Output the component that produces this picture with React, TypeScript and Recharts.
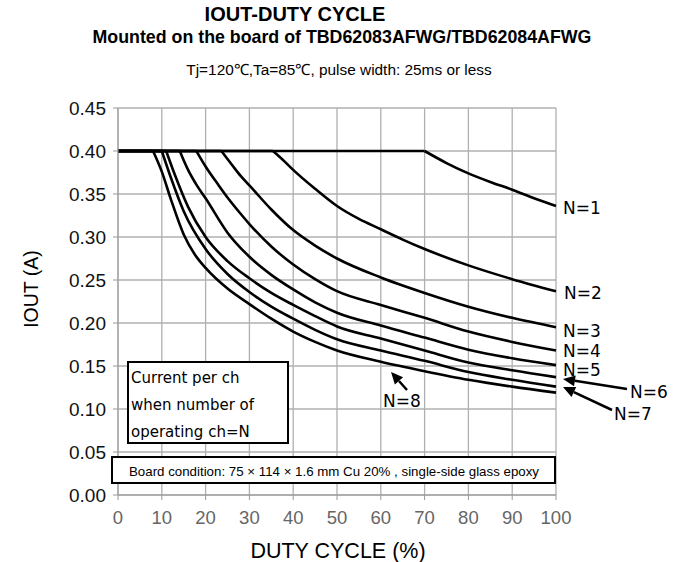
import React from 'react';
import { LineChart, Line, XAxis, YAxis, CartesianGrid } from 'recharts';

const xTicks = [0, 10, 20, 30, 40, 50, 60, 70, 80, 90, 100];
const yTicks = [0, 0.05, 0.1, 0.15, 0.2, 0.25, 0.3, 0.35, 0.4, 0.45];

const dutyN1 = [0, 70, 75, 80, 85, 90, 95, 100];
const ioutN1 = [0.4, 0.4, 0.386, 0.374, 0.364, 0.355, 0.345, 0.336];

const dutyN2 = [0, 35.4, 38, 40, 45, 50, 55, 60, 65, 70, 80, 90, 100];
const ioutN2 = [0.4, 0.4, 0.388, 0.378, 0.356, 0.336, 0.321, 0.309, 0.297, 0.286, 0.267, 0.251, 0.237];

const dutyN3 = [0, 23.6, 26, 28, 30, 35, 40, 45, 50, 60, 70, 80, 90, 100];
const ioutN3 = [0.4, 0.4, 0.384, 0.371, 0.36, 0.332, 0.308, 0.29, 0.275, 0.253, 0.235, 0.219, 0.206, 0.195];

const dutyN4 = [0, 17.9, 20, 23, 25, 28, 30, 35, 40, 45, 50, 60, 70, 80, 90, 100];
const ioutN4 = [0.4, 0.4, 0.382, 0.36, 0.346, 0.327, 0.315, 0.289, 0.268, 0.251, 0.237, 0.221, 0.206, 0.19, 0.178, 0.168];

const dutyN5 = [0, 14.1, 16, 18, 20, 25, 30, 35, 40, 45, 50, 60, 70, 80, 90, 100];
const ioutN5 = [0.4, 0.4, 0.378, 0.36, 0.345, 0.305, 0.277, 0.256, 0.239, 0.224, 0.212, 0.197, 0.183, 0.169, 0.159, 0.151];

const dutyN6 = [0, 11, 13, 16, 20, 25, 30, 35, 40, 45, 50, 60, 70, 80, 90, 100];
const ioutN6 = [0.4, 0.4, 0.372, 0.335, 0.3, 0.272, 0.252, 0.235, 0.221, 0.208, 0.196, 0.182, 0.168, 0.154, 0.145, 0.137];

const dutyN7 = [0, 10, 12, 15, 20, 25, 30, 35, 40, 45, 50, 60, 70, 80, 90, 100];
const ioutN7 = [0.4, 0.4, 0.37, 0.33, 0.286, 0.257, 0.236, 0.219, 0.205, 0.192, 0.181, 0.168, 0.156, 0.143, 0.134, 0.126];

const dutyN8 = [0, 8, 10, 12, 15, 17.5, 20, 25, 30, 35, 40, 45, 50, 60, 70, 80, 90, 100];
const ioutN8 = [0.4, 0.4, 0.376, 0.345, 0.303, 0.28, 0.264, 0.24, 0.222, 0.205, 0.19, 0.178, 0.168, 0.155, 0.144, 0.134, 0.126, 0.119];

const zip = (xs: number[], ys: number[]) => xs.map((x, i) => ({ x, y: ys[i] }));

const series = [
  zip(dutyN1, ioutN1),
  zip(dutyN2, ioutN2),
  zip(dutyN3, ioutN3),
  zip(dutyN4, ioutN4),
  zip(dutyN5, ioutN5),
  zip(dutyN6, ioutN6),
  zip(dutyN7, ioutN7),
  zip(dutyN8, ioutN8),
];

const ARIAL = '"Liberation Sans", Arial, sans-serif';
const VERD = '"DejaVu Sans", Verdana, sans-serif';

const XTick = (props: any) => {
  const { x, y, payload } = props;
  return (
    <text x={x} y={y + 22} textAnchor="middle" fontFamily={ARIAL} fontSize={18.5} fill="#666">
      {payload.value}
    </text>
  );
};

const YTick = (props: any) => {
  const { y, payload } = props;
  return (
    <text x={106} y={y + 7} textAnchor="end" fontFamily={ARIAL} fontSize={19} fill="#111">
      {Number(payload.value).toFixed(2)}
    </text>
  );
};

const Arrow = ({ x1, y1, x2, y2 }: { x1: number; y1: number; x2: number; y2: number }) => {
  const ang = Math.atan2(y2 - y1, x2 - x1);
  const L = 12;
  const W = 5.5;
  const bx = x2 - L * Math.cos(ang);
  const by = y2 - L * Math.sin(ang);
  const px = -Math.sin(ang) * W;
  const py = Math.cos(ang) * W;
  return (
    <g>
      <line x1={x1} y1={y1} x2={bx} y2={by} stroke="#000" strokeWidth={2.5} />
      <polygon points={`${x2},${y2} ${bx + px},${by + py} ${bx - px},${by - py}`} fill="#000" />
    </g>
  );
};

export default function App() {
  return (
    <div style={{ position: 'absolute', left: 0, top: 0, width: 687, height: 562, background: '#fff' }}>
      <LineChart width={687} height={562} margin={{ top: 108, right: 131, bottom: 37, left: 58 }}>
        <CartesianGrid stroke="#b0b0b0" strokeWidth={1.3} />
        <XAxis
          type="number"
          dataKey="x"
          domain={[0, 100]}
          ticks={xTicks}
          height={30}
          stroke="#999"
          tickSize={5}
          tick={<XTick />}
          allowDuplicatedCategory={false}
        />
        <YAxis
          type="number"
          dataKey="y"
          domain={[0, 0.45]}
          ticks={yTicks}
          width={60}
          stroke="#999"
          tickSize={5}
          tick={<YTick />}
        />
        {series.map((d, i) => (
          <Line
            key={`flat${i}`}
            data={d.slice(0, 2)}
            dataKey="y"
            type="linear"
            stroke="#000"
            strokeWidth={2.6}
            dot={false}
            isAnimationActive={false}
          />
        ))}
        {series.map((d, i) => (
          <Line
            key={`fall${i}`}
            data={d.slice(1)}
            dataKey="y"
            type="monotone"
            stroke="#000"
            strokeWidth={2.6}
            dot={false}
            isAnimationActive={false}
          />
        ))}
      </LineChart>
      <svg width={687} height={562} style={{ position: 'absolute', left: 0, top: 0, pointerEvents: 'none' }}>
        <text x={295} y={21} textAnchor="middle" fontFamily={ARIAL} fontWeight="bold" fontSize={20}>
          IOUT-DUTY CYCLE
        </text>
        <text x={342} y={43} textAnchor="middle" fontFamily={ARIAL} fontWeight="bold" fontSize={17.8}>
          Mounted on the board of TBD62083AFWG/TBD62084AFWG
        </text>
        <text x={339} y={75} textAnchor="middle" fontFamily={ARIAL} fontSize={15.4}>
          Tj=120℃,Ta=85℃, pulse width: 25ms or less
        </text>
        <text x={0} y={0} transform="translate(38,289) rotate(-90)" textAnchor="middle" fontFamily={ARIAL} fontSize={19.5}>
          IOUT (A)
        </text>
        <text x={338} y={558} textAnchor="middle" fontFamily={ARIAL} fontSize={21.5}>
          DUTY CYCLE (%)
        </text>

        <rect x={128} y={362} width={160} height={81} fill="#fff" stroke="#000" strokeWidth={2} />
        <text x={131} y={383} fontFamily={VERD} fontSize={15}>Current per ch</text>
        <text x={131} y={410} fontFamily={VERD} fontSize={15}>when number of</text>
        <text x={131} y={437} fontFamily={VERD} fontSize={15}>operating ch=N</text>

        <rect x={112} y={457} width={443} height={26} fill="#fff" stroke="#000" strokeWidth={2} />
        <text x={334} y={476} textAnchor="middle" fontFamily={ARIAL} fontSize={13.3}>
          Board condition: 75 × 114 × 1.6 mm Cu 20% , single-side glass epoxy
        </text>

        <text x={563} y={214} fontFamily={VERD} fontSize={17}>N=1</text>
        <text x={564} y={299} fontFamily={VERD} fontSize={17}>N=2</text>
        <text x={563} y={337} fontFamily={VERD} fontSize={17}>N=3</text>
        <text x={563} y={357} fontFamily={VERD} fontSize={17}>N=4</text>
        <text x={563} y={376} fontFamily={VERD} fontSize={17}>N=5</text>
        <text x={630} y={398} fontFamily={VERD} fontSize={17}>N=6</text>
        <text x={614} y={420} fontFamily={VERD} fontSize={17}>N=7</text>
        <text x={383} y={407} fontFamily={VERD} fontSize={17}>N=8</text>

        <Arrow x1={627} y1={389} x2={563} y2={379} />
        <Arrow x1={612} y1={410} x2={563} y2={387} />
        <Arrow x1={407} y1={390} x2={391} y2={372} />
      </svg>
    </div>
  );
}
